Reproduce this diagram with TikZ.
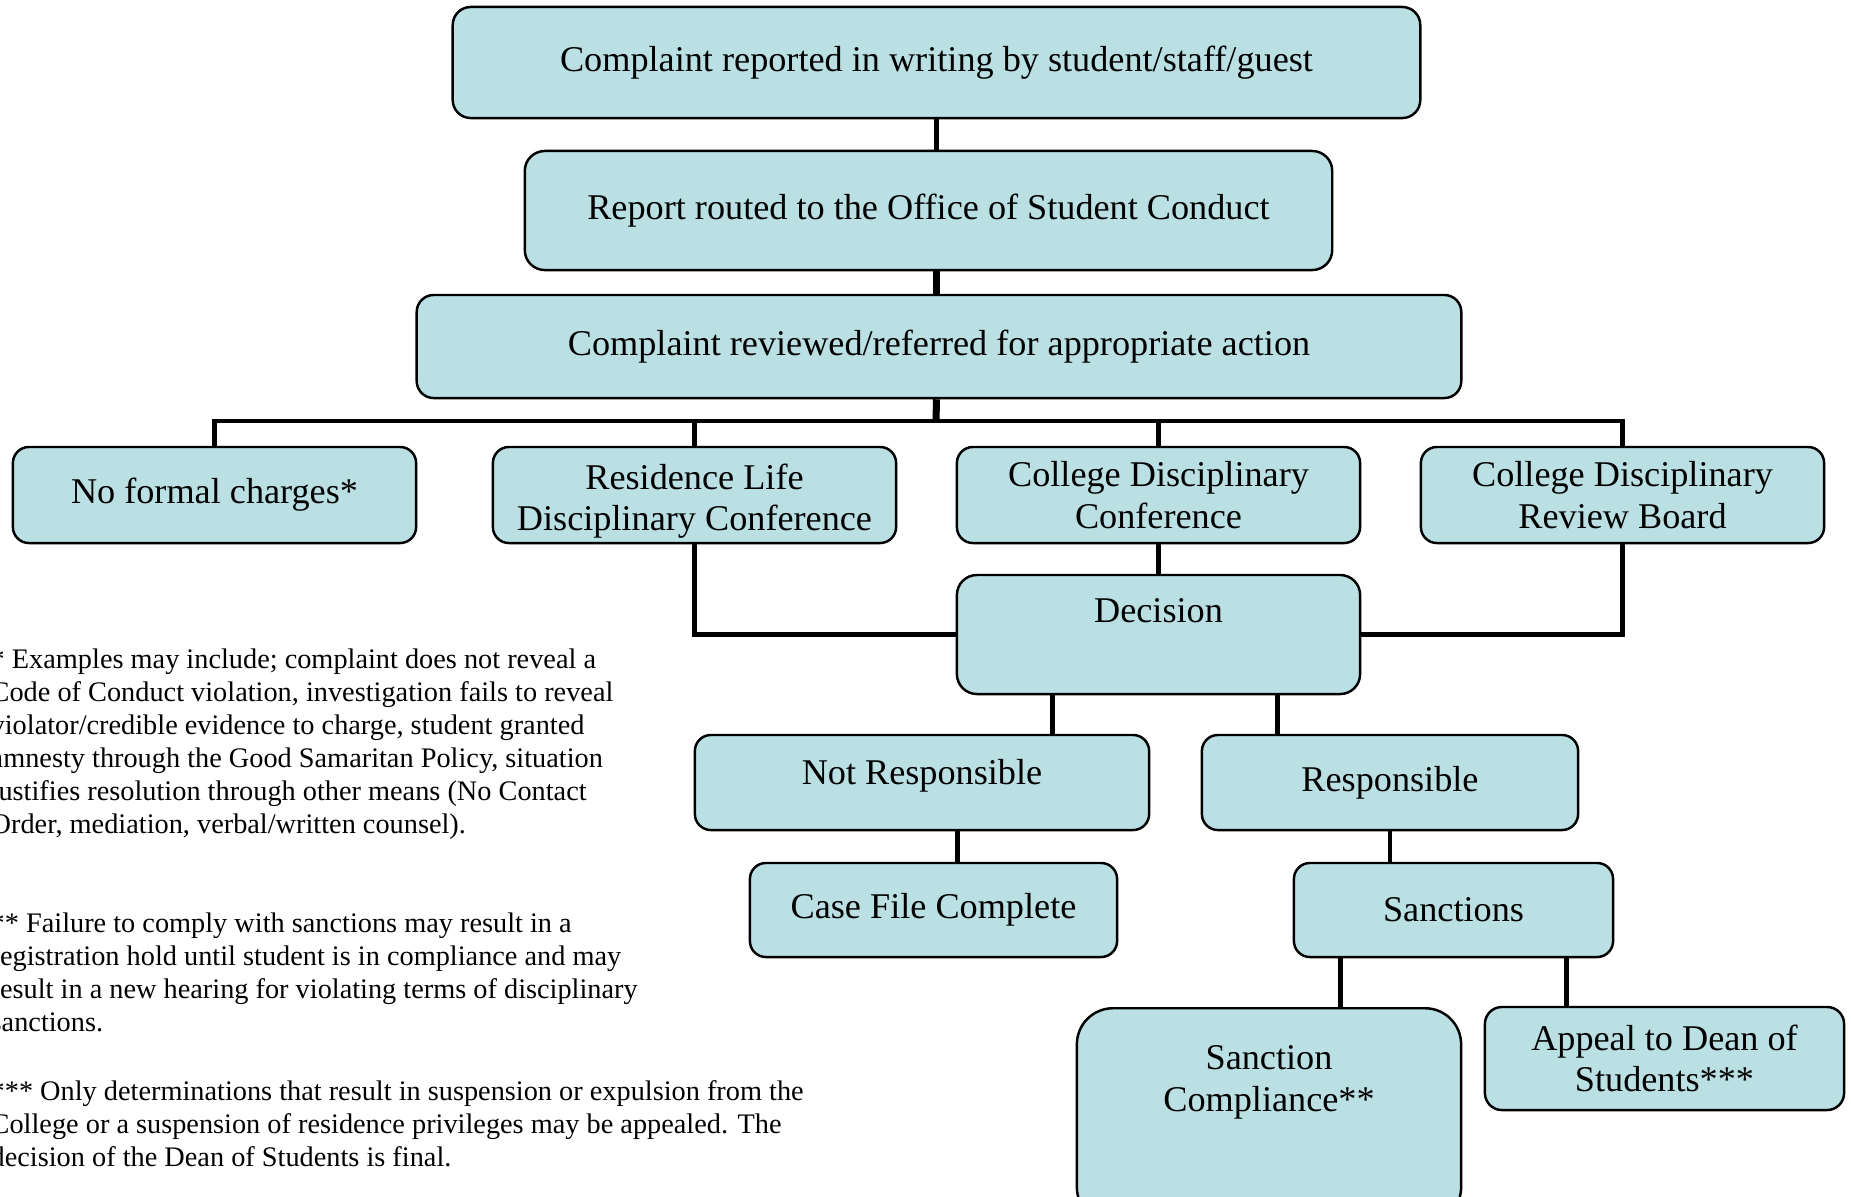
\documentclass[tikz,border=0pt]{standalone}
\usepackage{fontspec}
\setmainfont{Liberation Serif}
\usetikzlibrary{calc}
\definecolor{boxfill}{RGB}{186,224,228}

\begin{document}
\begin{tikzpicture}[x=0.01cm,y=-0.01cm]
    \tikzstyle{every node}+=[inner sep=0pt]
    \tikzstyle{stage}=[draw=black, fill=boxfill, line width=0.7pt, rounded corners=0.16cm, align=center, font=\fontsize{10.3}{11.8}\selectfont]
    \tikzstyle{link}=[black, line width=1.4pt]
    \tikzstyle{note}=[anchor=north west, align=left, font=\fontsize{8.05}{9.4}\selectfont]
    \useasboundingbox (0,0) rectangle (1851,1196);
    \node [stage, minimum width=9.67cm, minimum height=1.11cm, rounded corners=0.18cm] (report) at (936.5,62.5) {Complaint reported in writing by student/staff/guest};
    \node [stage, minimum width=8.07cm, minimum height=1.19cm, rounded corners=0.2cm] (routed) at (928.5,210.5) {Report routed to the Office of Student Conduct};
    \node [stage, minimum width=10.44cm, minimum height=1.03cm, rounded corners=0.17cm] (review) at (939,346.5) {Complaint reviewed/referred for appropriate action};
    \node [stage, minimum width=4.03cm, minimum height=0.96cm] (nocharge) at (214.5,495) {No formal charges*};
    \node [stage, minimum width=4.03cm, minimum height=0.96cm] (resdc) at (694.5,495) {Residence Life\\Disciplinary Conference\\[-13pt]\mbox{}};
    \node [stage, minimum width=4.03cm, minimum height=0.96cm] (colldc) at (1158.5,495) {College Disciplinary\\Conference};
    \node [stage, minimum width=4.03cm, minimum height=0.96cm] (reviewbd) at (1622.5,495) {College Disciplinary\\Review Board};
    \node [stage, minimum width=4.03cm, minimum height=1.19cm, rounded corners=0.2cm] (decision) at (1158.5,634.5) {Decision\\[2pt]\mbox{}};
    \node [stage, minimum width=4.54cm, minimum height=0.95cm] (notresp) at (922,782.5) {Not Responsible\\[-5.6pt]\mbox{}};
    \node [stage, minimum width=3.76cm, minimum height=0.95cm] (resp) at (1390,782.5) {Responsible};
    \node [stage, minimum width=3.67cm, minimum height=0.94cm] (casefile) at (933.5,910) {Case File Complete};
    \node [stage, minimum width=3.19cm, minimum height=0.94cm] (sanctions) at (1453.5,910) {Sanctions};
    \node [stage, anchor=north, minimum width=3.84cm, minimum height=2.15cm, rounded corners=0.36cm] (compliance) at (1269,1007) {Sanction\\Compliance**\\[9.5pt]\mbox{}};
    \node [stage, minimum width=3.59cm, minimum height=1.03cm, rounded corners=0.17cm] (appeal) at (1664.5,1058.5) {Appeal to Dean of\\Students***};
    \coordinate (bus) at (936,421);
    \coordinate (dnot) at ($(decision.south west)!0.238!(decision.south east)$);
    \coordinate (dres) at ($(decision.south west)!0.794!(decision.south east)$);
    \coordinate (ncase) at ($(notresp.south west)!0.577!(notresp.south east)$);
    \coordinate (scomp) at ($(sanctions.south west)!0.15!(sanctions.south east)$);
    \coordinate (sapp) at ($(sanctions.south west)!0.85!(sanctions.south east)$);
    \draw [link] (report.south) -- (report.south |- routed.north);
    \draw [link, line width=2pt] (report.south |- routed.south) -- (report.south |- review.north);
    \draw [link, line width=2pt] (report.south |- review.south) -- (bus);
    \draw [link] (nocharge.north) |- (reviewbd.north |- bus) -- (reviewbd.north);
    \draw [link] (resdc.north) -- (resdc.north |- bus);
    \draw [link] (colldc.north) -- (colldc.north |- bus);
    \draw [link] (resdc.south) |- (decision.west);
    \draw [link] (reviewbd.south) |- (decision.east);
    \draw [link] (colldc.south) -- (decision.north);
    \draw [link] (dnot) -- (dnot |- notresp.north);
    \draw [link] (dres) -- (dres |- resp.north);
    \draw [link] (ncase) -- (ncase |- casefile.north);
    \draw [link] (resp.south) -- (resp.south |- sanctions.north);
    \draw [link] (scomp) -- (scomp |- compliance.north);
    \draw [link] (sapp) -- (sapp |- appeal.north);
    \node [note] (note1) at (-10,648) {* Examples may include; complaint does not reveal a\\Code of Conduct violation, investigation fails to reveal\\violator/credible evidence to charge, student granted\\amnesty through the Good Samaritan Policy, situation\\justifies resolution through other means (No Contact\\Order, mediation, verbal/written counsel).};
    \node [note] (note2) at (-10,912) {** Failure to comply with sanctions may result in a\\registration hold until student is in compliance and may\\result in a new hearing for violating terms of disciplinary\\sanctions.};
    \node [note] (note3) at (-10,1080) {*** Only determinations that result in suspension or expulsion from the\\College or a suspension of residence privileges may be appealed. The\\decision of the Dean of Students is final.};
\end{tikzpicture}
\end{document}
